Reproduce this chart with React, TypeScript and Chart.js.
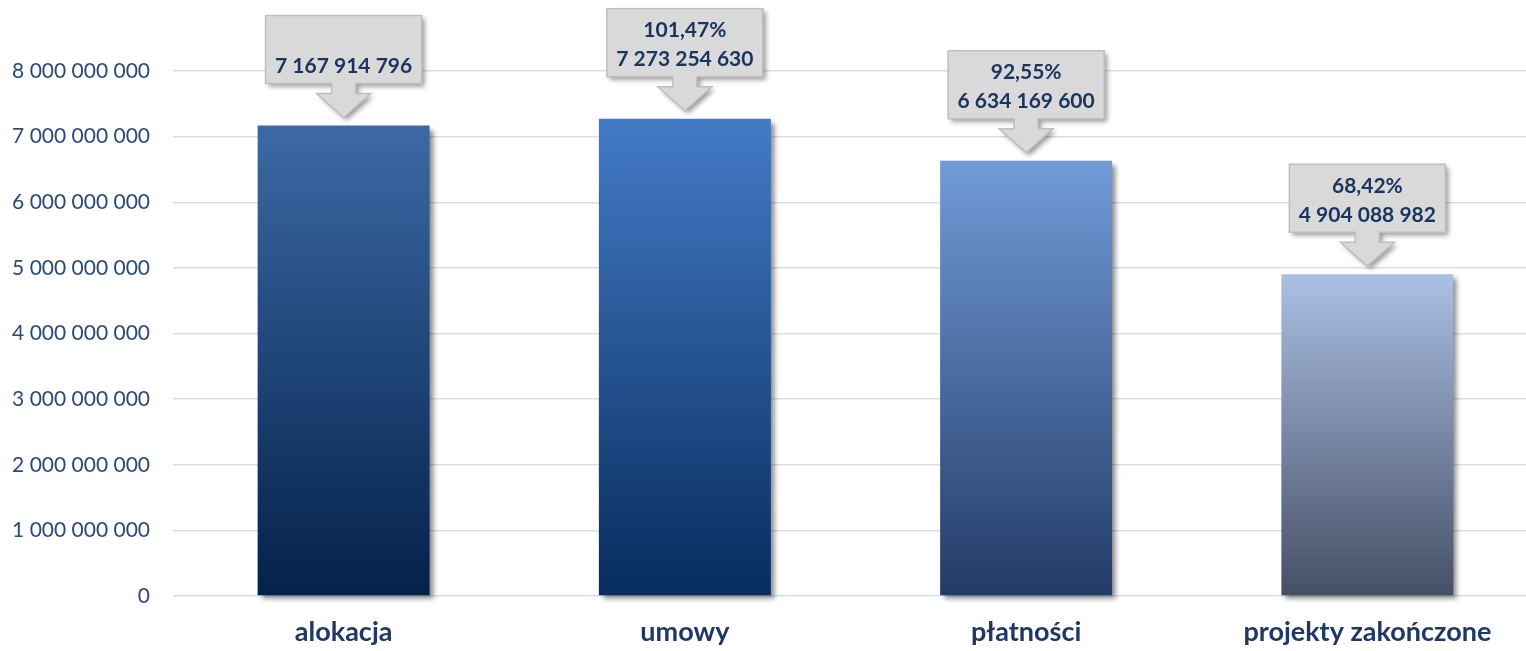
import React, { useEffect, useRef } from "react";
import { Chart, registerables } from "chart.js";

Chart.register(...registerables);

const categories = ["alokacja", "umowy", "płatności", "projekty zakończone"];
const values = [7167914796, 7273254630, 6634169600, 4904088982];
const percentLabels = ["", "101,47%", "92,55%", "68,42%"];
const yTickValues = [0, 1e9, 2e9, 3e9, 4e9, 5e9, 6e9, 7e9, 8e9];
const barTopColors = ["#3c69a5", "#437bc6", "#729bd8", "#abc0e4"];
const barBottomColors = ["#04214a", "#082c5e", "#223b66", "#464f66"];

const fmt = (n: number) =>
  Math.round(n)
    .toString()
    .replace(/\B(?=(\d{3})+(?!\d))/g, " ");

const barShadow = {
  id: "barShadow",
  beforeDatasetsDraw(chart: any) {
    const c = chart.ctx;
    c.save();
    c.shadowColor = "rgba(0,0,0,0.45)";
    c.shadowOffsetX = 4;
    c.shadowOffsetY = 4;
    c.shadowBlur = 5;
  },
  afterDatasetsDraw(chart: any) {
    chart.ctx.restore();
  },
};

const callouts = {
  id: "callouts",
  afterDraw(chart: any) {
    const c = chart.ctx;
    const meta = chart.getDatasetMeta(0);
    meta.data.forEach((bar: any, i: number) => {
      const x = bar.x;
      const tip = bar.y - 8;
      const bw = 156;
      const bh = 68;
      const boxBottom = tip - 34;
      const boxTop = boxBottom - bh;
      const headY = boxBottom + 10;
      const path = () => {
        c.beginPath();
        c.moveTo(x - bw / 2, boxTop);
        c.lineTo(x + bw / 2, boxTop);
        c.lineTo(x + bw / 2, boxBottom);
        c.lineTo(x + 12, boxBottom);
        c.lineTo(x + 12, headY);
        c.lineTo(x + 27, headY);
        c.lineTo(x, tip);
        c.lineTo(x - 27, headY);
        c.lineTo(x - 12, headY);
        c.lineTo(x - 12, boxBottom);
        c.lineTo(x - bw / 2, boxBottom);
        c.closePath();
      };
      c.save();
      c.shadowColor = "rgba(0,0,0,0.4)";
      c.shadowOffsetX = 3;
      c.shadowOffsetY = 3;
      c.shadowBlur = 5;
      path();
      c.fillStyle = "#d9d9d9";
      c.fill();
      c.restore();
      c.save();
      path();
      c.strokeStyle = "#bfbfbf";
      c.lineWidth = 1.5;
      c.stroke();
      c.fillStyle = "#1b3560";
      c.font = "bold 21px Lato";
      c.textAlign = "center";
      c.textBaseline = "middle";
      if (percentLabels[i]) c.fillText(percentLabels[i], x, boxTop + 22);
      c.fillText(fmt(values[i]), x, boxTop + 51);
      c.restore();
    });
  },
};

export default function App() {
  const ref = useRef<HTMLCanvasElement | null>(null);
  useEffect(() => {
    if (!ref.current) return;
    const chart = new Chart(ref.current, {
      type: "bar",
      data: {
        labels: categories,
        datasets: [
          {
            data: values,
            clip: false as any,
            borderWidth: 0,
            backgroundColor: (ctx: any) => {
              const i = ctx.dataIndex;
              const ch = ctx.chart;
              if (!ch.chartArea || i === undefined) return barTopColors[i ?? 0];
              const ys = ch.scales.y;
              const top = ys.getPixelForValue(values[i]);
              const bottom = ys.getPixelForValue(0);
              const g = ch.ctx.createLinearGradient(0, top, 0, bottom);
              g.addColorStop(0, barTopColors[i]);
              g.addColorStop(1, barBottomColors[i]);
              return g;
            },
            categoryPercentage: 1,
            barPercentage: 0.504,
          },
        ],
      },
      options: {
        responsive: false,
        animation: false,
        layout: { padding: { top: 71, right: 0, bottom: 0, left: 0 } },
        plugins: {
          legend: { display: false },
          tooltip: { enabled: false },
        },
        scales: {
          x: {
            grid: { display: false, drawTicks: false },
            border: { display: false },
            ticks: {
              padding: 20,
              color: "#1f3864",
              font: { family: "Lato", size: 27, weight: "bold" },
            },
            afterFit: (s: any) => {
              s.height = 55;
            },
          },
          y: {
            min: 0,
            max: 8e9,
            afterBuildTicks: (s: any) => {
              s.ticks = yTickValues.map((v) => ({ value: v }));
            },
            grid: { color: "#d3dff0", lineWidth: 1.5, drawTicks: false },
            border: { display: false },
            ticks: {
              padding: 23,
              color: "#2a4a7c",
              font: { family: "Lato", size: 21 },
              callback: (v: any) => fmt(Number(v)),
            },
            afterFit: (s: any) => {
              s.width = 173;
            },
          },
        },
      },
      plugins: [barShadow, callouts],
    });
    return () => chart.destroy();
  }, []);
  return (
    <div
      style={{
        position: "absolute",
        left: 0,
        top: 0,
        width: 1526,
        height: 651,
        overflow: "hidden",
        background: "#fff",
      }}
    >
      <canvas ref={ref} width={1538} height={651} style={{ width: 1538, height: 651, display: "block" }} />
    </div>
  );
}
